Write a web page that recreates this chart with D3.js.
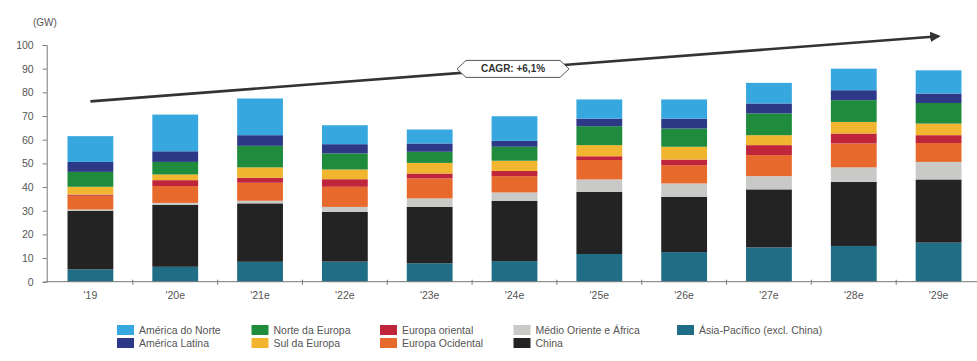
<!DOCTYPE html>
<html>
<head>
<meta charset="utf-8">
<script src="https://cdn.jsdelivr.net/npm/d3@7"></script>
<style>
  html, body { margin: 0; padding: 0; background: #fff; }
  svg { display: block; font-family: "Liberation Sans", Arial, sans-serif; }
</style>
</head>
<body>
<svg id="chart" width="977" height="361"></svg>
<script>
// ---- data ----
const categories = ["'19", "'20e", "'21e", "'22e", "'23e", "'24e", "'25e", "'26e", "'27e", "'28e", "'29e"];
const seriesNames = ["Ásia-Pacífico (excl. China)", "China", "Médio Oriente e África", "Europa Ocidental",
  "Europa oriental", "Sul da Europa", "Norte da Europa", "América Latina", "América do Norte"];
const asiaPacifico   = [5.2, 6.3, 8.4, 8.5, 7.8, 8.7, 11.7, 12.5, 14.5, 15.1, 16.5];
const china          = [24.8, 26.1, 24.7, 21.0, 23.8, 25.5, 26.3, 23.4, 24.5, 27.1, 26.7];
const medioOriente   = [0.5, 0.9, 1.1, 2.1, 3.6, 3.5, 5.2, 5.6, 5.6, 6.1, 7.4];
const europaOcidental= [5.8, 7.1, 7.6, 8.5, 8.4, 6.9, 8.2, 7.7, 8.9, 10.1, 8.0];
const europaOriental = [0.5, 2.5, 2.1, 3.2, 2.1, 2.2, 1.6, 2.4, 4.2, 4.2, 3.3];
const sulEuropa      = [3.3, 2.4, 4.4, 4.1, 4.5, 4.3, 4.7, 5.4, 4.2, 4.9, 4.9];
const norteEuropa    = [6.3, 5.3, 9.1, 6.8, 4.7, 5.9, 8.0, 7.7, 9.2, 9.2, 8.7];
const americaLatina  = [4.2, 4.5, 4.5, 3.9, 3.5, 2.5, 3.2, 4.2, 4.2, 4.2, 4.0];
const americaNorte   = [10.9, 15.5, 15.5, 8.0, 5.9, 10.4, 8.1, 8.1, 8.7, 9.1, 9.8];
const seriesValues = [asiaPacifico, china, medioOriente, europaOcidental, europaOriental,
  sulEuropa, norteEuropa, americaLatina, americaNorte];
const seriesColors = ["#1f6e85", "#232323", "#c9c9c7", "#e8692c", "#c0263b", "#f1b52f", "#1e8c3c", "#2d3886", "#37a8df"];
const yTicks = [0, 10, 20, 30, 40, 50, 60, 70, 80, 90, 100];
const unitLabel = "(GW)";
const cagrLabel = "CAGR: +6,1%";
const trendStart = { cat: "'19", value: 76.2 };
const trendEnd = { cat: "'29e", value: 103.7 };
const legendRows = [
  ["América do Norte", "Norte da Europa", "Europa oriental", "Médio Oriente e África", "Ásia-Pacífico (excl. China)"],
  ["América Latina", "Sul da Europa", "Europa Ocidental", "China"]
];

// ---- build ----
const svg = d3.select("#chart");
const axisX = 46.7;
const x = d3.scaleBand().domain(categories).range([48, 981]).paddingInner(0.46).paddingOuter(0.23);
const y = d3.scaleLinear().domain([0, 100]).range([281.7, 45]);

const table = categories.map((c, i) => {
  const row = { cat: c };
  seriesNames.forEach((s, k) => row[s] = seriesValues[k][i]);
  return row;
});
const stacked = d3.stack().keys(seriesNames)(table);
const color = d3.scaleOrdinal().domain(seriesNames).range(seriesColors);

// bars
svg.append("g").selectAll("g").data(stacked).join("g")
  .attr("fill", d => color(d.key))
  .selectAll("rect").data(d => d).join("rect")
  .attr("x", d => x(d.data.cat))
  .attr("width", x.bandwidth())
  .attr("y", d => y(d[1]))
  .attr("height", d => y(d[0]) - y(d[1]));

// y axis
const yAxis = svg.append("g").attr("transform", `translate(${axisX},0)`)
  .call(d3.axisLeft(y).tickValues(yTicks).tickSize(4).tickPadding(9));
yAxis.select(".domain").attr("stroke", "#777");
yAxis.selectAll(".tick line").attr("stroke", "#777");
yAxis.selectAll(".tick text").attr("fill", "#555").style("font-size", "10.5px");

// x axis
const gx = svg.append("g").attr("transform", `translate(0,${y(0)})`);
gx.append("line").attr("x1", axisX).attr("x2", 977).attr("y1", 0).attr("y2", 0).attr("stroke", "#777");
gx.selectAll("line.tk").data(categories.slice(0, -1)).join("line").attr("class", "tk")
  .attr("x1", d => x(d) + x.bandwidth() / 2 + x.step() / 2)
  .attr("x2", d => x(d) + x.bandwidth() / 2 + x.step() / 2)
  .attr("y1", -2).attr("y2", 3).attr("stroke", "#777");
gx.selectAll("text").data(categories).join("text")
  .attr("x", d => x(d) + x.bandwidth() / 2)
  .attr("y", 17)
  .attr("text-anchor", "middle")
  .attr("fill", "#555").style("font-size", "10.5px")
  .text(d => d);

// unit
svg.append("text").attr("x", 33).attr("y", 26).attr("fill", "#555")
  .style("font-size", "10px").text(unitLabel);

// trend arrow
svg.append("defs").append("marker").attr("id", "arr")
  .attr("viewBox", "0 0 10 10").attr("refX", 8).attr("refY", 5)
  .attr("markerWidth", 4).attr("markerHeight", 4).attr("orient", "auto")
  .append("path").attr("d", "M0,0 L10,5 L0,10 z").attr("fill", "#333");
const tx1 = x(trendStart.cat) + x.bandwidth() / 2, ty1 = y(trendStart.value);
const tx2 = x(trendEnd.cat) + x.bandwidth() / 2, ty2 = y(trendEnd.value);
svg.append("line").attr("x1", tx1).attr("y1", ty1).attr("x2", tx2).attr("y2", ty2)
  .attr("stroke", "#333").attr("stroke-width", 2.6).attr("marker-end", "url(#arr)");

// CAGR label
const cx = 513, cy = ty1 + (ty2 - ty1) * (cx - tx1) / (tx2 - tx1);
const w = 112, h = 17;
svg.append("path")
  .attr("d", `M${cx - w / 2},${cy} L${cx - w / 2 + 9},${cy - h / 2} L${cx + w / 2 - 9},${cy - h / 2} L${cx + w / 2},${cy} L${cx + w / 2 - 9},${cy + h / 2} L${cx - w / 2 + 9},${cy + h / 2} Z`)
  .attr("fill", "#fff").attr("stroke", "#555").attr("stroke-width", 1);
svg.append("text").attr("x", cx).attr("y", cy + 3.5).attr("text-anchor", "middle")
  .attr("fill", "#333").style("font-size", "10px").style("font-weight", "bold").text(cagrLabel);

// legend
const colX = [117, 251.5, 380, 513.5, 677];
const rowY = [330, 343];
legendRows.forEach((row, r) => {
  row.forEach((name, c) => {
    const g = svg.append("g").attr("transform", `translate(${colX[c]},${rowY[r]})`);
    g.append("rect").attr("x", 0).attr("y", -5).attr("width", 17).attr("height", 10).attr("fill", color(name));
    g.append("text").attr("x", 22).attr("y", 3.8).attr("fill", "#555")
      .style("font-size", "10.5px").text(name);
  });
});
</script>
</body>
</html>
